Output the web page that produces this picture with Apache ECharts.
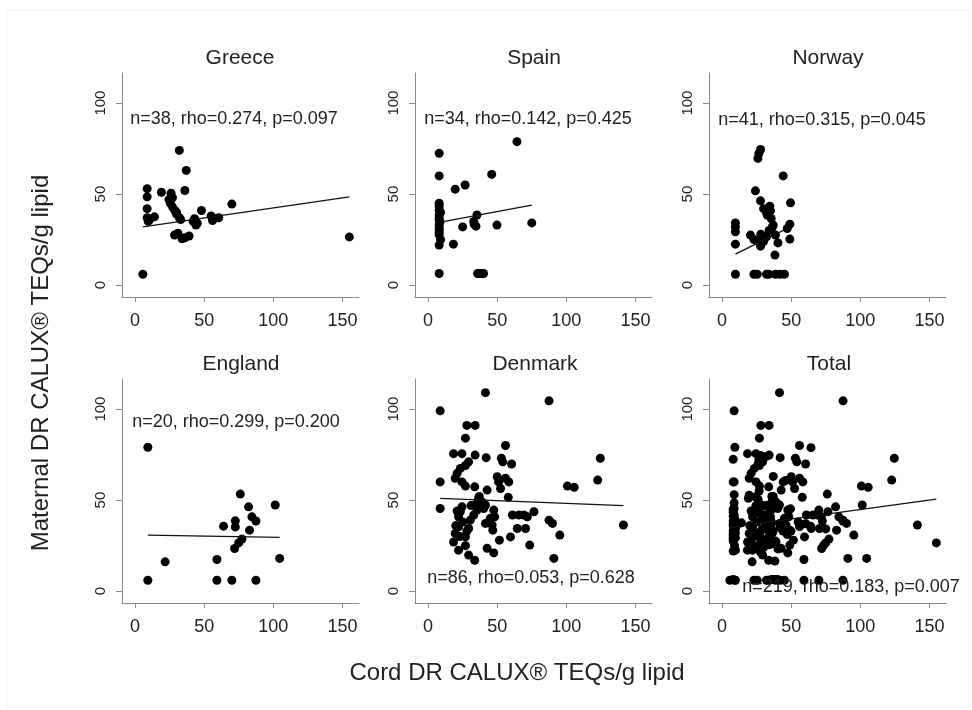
<!DOCTYPE html>
<html>
<head>
<meta charset="utf-8">
<script src="https://cdn.jsdelivr.net/npm/echarts@6/dist/echarts.min.js"></script>
<style>
html, body { margin: 0; padding: 0; background: #fff; }
#cord-charts { width: 972px; height: 710px; }
</style>
</head>
<body>
<div id="cord-charts"></div>
<script>
// [cord, maternal] per subject
var greece = [[5.6,6],[8.7,53],[8.7,48.5],[8.7,42],[8.7,37],[9.5,35],[10.5,36],[14,37.5],[19,51],[26,50.5],
	[24.5,47],[25.5,45],[27,43],[28.7,41],[30,39],[32,37],[33,36],[28.5,27.5],[31,28.5],[34,25.5],
	[36,26],[39,27],[32,74],[37,63],[36,52],[43,36.5],[44,33],[45,34],[48,41],[55,38],
	[56,35.5],[57,36.5],[60.5,37],[70,44.5],[155,26.5],[30,40],[42,35],[27,48]];
var spain = [[8,72.4],[8,60],[19.6,52.7],[26.8,55],[46,60.8],[64.3,78.8],[8,43.4],[8,41.2],[8,38.6],[8,36],
	[8,33.2],[8,30.4],[8,27.7],[8,22],[18.3,22.5],[25,32],[33.3,33.5],[34.6,32.4],[35.3,38.5],[49.8,33],
	[75,34.2],[8,6.4],[35.8,6.4],[38.2,6.4],[40.1,6.4],[8,45],[8,37],[8,31.5],[8,29],[9,25],
	[9,40],[8.5,34.5],[37,6.4],[33,35]];
var norway = [[27.8,74.5],[26.6,72.4],[25.9,69.6],[44.2,60],[24.1,51.8],[27.8,46.3],[49.5,45.2],[34.5,43.4],[35,40.8],[32.6,38.5],
	[35.5,36.6],[9.6,34.2],[9.6,32],[9.6,29.3],[49,33.5],[47.1,31.1],[36.2,31.7],[20.5,27.5],[23,25.1],[32.1,26.5],
	[38.6,27.5],[49,25.3],[9.6,22.5],[27.8,21.4],[40.4,23.2],[26.6,23.8],[38.2,16.5],[9.6,6],[23,6],[25.4,6],
	[32.1,6],[33.8,6],[38.6,6],[41.8,6],[45.1,6],[30,42],[32,40],[34,30],[28,28],[37,33],[30,24]];
var england = [[9.2,79],[9.2,6],[21.7,16.1],[59.2,17.4],[59.2,6],[70,6],[87.4,6],[64,35.7],[72.5,38.6],[72.5,35.3],
	[76.1,53.3],[82.1,46.3],[84.5,40.8],[87.4,38.5],[82.8,33.5],[77.3,28.6],[74.9,26.5],[72,23.4],[101.4,47.3],[104.6,18]];
var denmark = [[41.5,109],[87.5,104.5],[8.7,99],[28,91],[34,91],[27,84],[18.4,75.5],[24.5,75.5],[34,74.7],[42,73.3],
	[29.3,71],[27,69],[23.3,67.4],[21,64.7],[19.6,62],[24.5,60],[27,57.7],[33.7,57.3],[42.7,55.5],[56,80],
	[53,73],[54,71],[60.4,69.8],[50,62.8],[56,62],[58.4,60],[51,60],[52.4,56.4],[58,51.5],[8.7,60],
	[8.7,45.4],[100.8,57.7],[105.7,57],[36.6,51],[39,49],[35.4,48.2],[41.5,47.3],[40.2,45.4],[24.5,46.3],[23.3,43.6],
	[22,40.8],[22,35.3],[19.6,31.7],[18.4,27],[22,22.5],[29.3,19.8],[33.7,17],[27,29.8],[29.3,34.4],[30.5,39],
	[33,41.8],[35.4,44.5],[47.5,44.5],[48.2,40.8],[46.3,36.3],[41.5,37.2],[42.7,23.5],[47.5,21],[51.6,28],[46.8,33.5],
	[59.6,29.8],[64.5,34.4],[70.5,34.4],[61,41.8],[65.7,41.8],[69.3,41.8],[71.8,40.8],[76.6,43.6],[73.5,25.3],[87.5,39],
	[90,37.2],[95.3,30.8],[91,18],[122.7,61],[124.6,73],[141.3,36.3],[25,38],[28,33],[20,36],[23,30],
	[27,25],[31,47],[38,46],[45,40],[37,52],[21,44]];
// the Total panel is every subject of the five centres
var total = greece.concat(spain, norway, england, denmark);

var panelNames = ['Greece', 'Spain', 'Norway', 'England', 'Denmark', 'Total'];
var panelData = [greece, spain, norway, england, denmark, total];
var panelStats = ['n=38, rho=0.274, p=0.097', 'n=34, rho=0.142, p=0.425', 'n=41, rho=0.315, p=0.045',
	'n=20, rho=0.299, p=0.200', 'n=86, rho=0.053, p=0.628', 'n=219, rho=0.183, p=0.007'];
// fitted line end points
var fitLines = [[[5.6,32],[155,48.5]], [[8,34.5],[75,44]], [[9.6,17],[49.5,32]],
	[[9.2,30.8],[104.6,29.5]], [[8.7,51],[141.3,47]], [[5.6,35],[155,50.5]]];
var xTicks = [0, 50, 100, 150];
var yTicks = [0, 50, 100];

var FONT = 'Liberation Sans, Arial, sans-serif';
var gridLeft = [122, 415, 709];
var gridTop = [73, 379];
var statPos = [[234,119], [528,119], [822,120], [236,422], [531,578], [851,587]];
var titlePos = [[240,58], [534,58], [828,58], [241,364], [535,364], [829,364]];

var option_cord = {
	backgroundColor: '#fff',
	animation: false,
	grid: [],
	xAxis: [],
	yAxis: [],
	series: [],
	graphic: [
		{ type: 'rect', shape: { x: 7, y: 10, width: 962, height: 697 }, style: { fill: 'none', stroke: '#f0f0f2', lineWidth: 1 } },
		{ type: 'text', x: 41, y: 363, rotation: Math.PI / 2, style: { text: 'Maternal DR CALUX® TEQs/g lipid', font: '24px ' + FONT, fill: '#222', textAlign: 'center', textVerticalAlign: 'middle' } },
		{ type: 'text', x: 517, y: 673, style: { text: 'Cord DR CALUX® TEQs/g lipid', font: '24px ' + FONT, fill: '#222', textAlign: 'center', textVerticalAlign: 'middle' } }
	]
};

function buildPanels() {
	for (var i = 0; i < panelNames.length; i++) {
		var col = i % 3, row = Math.floor(i / 3);
		option_cord.grid.push({ left: gridLeft[col], top: gridTop[row], width: 237, height: 224 });
		option_cord.xAxis.push({
			type: 'value', gridIndex: i, min: -9.5, max: 162,
			axisLine: { show: true, onZero: false, lineStyle: { color: '#8a8a8a', width: 1 } },
			axisTick: { show: true, length: 5, customValues: xTicks, lineStyle: { color: '#8a8a8a' } },
			axisLabel: { customValues: xTicks, fontSize: 18, fontFamily: FONT, color: '#222', margin: 15 },
			splitLine: { show: false }
		});
		option_cord.yAxis.push({
			type: 'value', gridIndex: i, min: -6.5, max: 116.5,
			axisLine: { show: true, onZero: false, lineStyle: { color: '#8a8a8a', width: 1 } },
			axisTick: { show: true, length: 6, customValues: yTicks, lineStyle: { color: '#8a8a8a' } },
			axisLabel: { customValues: yTicks, rotate: 90, fontSize: 15, fontFamily: FONT, color: '#222', margin: 14 },
			splitLine: { show: false }
		});
		option_cord.series.push({
			type: 'scatter', xAxisIndex: i, yAxisIndex: i, data: panelData[i],
			symbolSize: 9, itemStyle: { color: '#000', opacity: 1 }
		});
		option_cord.series.push({
			type: 'line', xAxisIndex: i, yAxisIndex: i, data: fitLines[i],
			symbol: 'none', lineStyle: { color: '#111', width: 1.3 }, z: 3
		});
		option_cord.graphic.push({
			type: 'text', x: titlePos[i][0], y: titlePos[i][1], z: 10,
			style: { text: panelNames[i], font: '21px ' + FONT, fill: '#222', textAlign: 'center', textVerticalAlign: 'middle' }
		});
		option_cord.graphic.push({
			type: 'text', x: statPos[i][0], y: statPos[i][1], z: 10,
			style: { text: panelStats[i], font: '18px ' + FONT, fill: '#222', textAlign: 'center', textVerticalAlign: 'middle' }
		});
	}
}

buildPanels();
var cordCharts = echarts.init(document.getElementById('cord-charts'));
cordCharts.setOption(option_cord);
</script>
</body>
</html>
